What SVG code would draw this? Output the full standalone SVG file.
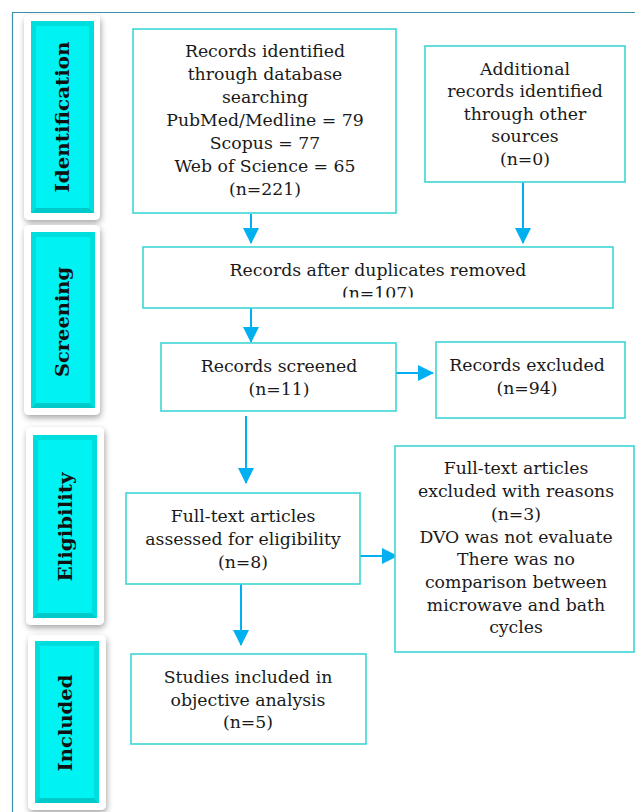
<svg xmlns="http://www.w3.org/2000/svg" width="635" height="812" viewBox="0 0 635 812">
<defs>
<style>
.box{fill:#fff;stroke:#3dd5d5;stroke-width:1.6}
.t{font-family:"DejaVu Serif","Liberation Serif",serif;font-size:17.3px;fill:#1a1a1a;text-anchor:middle}
.lab{font-family:"DejaVu Serif","Liberation Serif",serif;font-size:19px;font-weight:bold;fill:#111;text-anchor:middle}
.conn{stroke:#00b0f0;stroke-width:2;fill:none}
.frame{fill:#fff;filter:url(#sh)}
.cy{fill:#00f3f3}
.bl{fill:#5cffff}
.bd{fill:#00c9c9}
.bm{fill:#00dddd}
</style>
<filter id="sh" x="-30%" y="-10%" width="160%" height="120%">
<feGaussianBlur in="SourceAlpha" stdDeviation="3"/>
<feOffset dx="1" dy="3" result="b"/>
<feComponentTransfer><feFuncA type="linear" slope="0.35"/></feComponentTransfer>
<feMerge><feMergeNode/><feMergeNode in="SourceGraphic"/></feMerge>
</filter>
<marker id="ah" viewBox="0 0 16 16" refX="15" refY="8" markerWidth="16" markerHeight="16" markerUnits="userSpaceOnUse" orient="auto">
<path d="M0,0 L16,8 L0,16 Z" fill="#00b0f0"/>
</marker>
<clipPath id="clip3"><rect x="143" y="247" width="470" height="50.5"/></clipPath>
</defs>
<rect width="635" height="812" fill="#fff"/>
<path d="M12.5,812 V12.5 H635" fill="none" stroke="#3a90a8" stroke-width="1.2"/>

<g id="stage-identification">
<rect class="frame" x="24" y="15" width="76" height="205" rx="5"/>
<rect class="cy" x="31" y="21" width="63" height="192"/>
<polygon class="bm" points="31,21 94,21 89,26 36,26"/>
<polygon class="bm" points="31,21 36,26 36,208 31,213"/>
<polygon class="bd" points="31,213 36,208 89,208 94,213"/>
<polygon class="bm" points="94,21 94,213 89,208 89,26"/>
<text class="lab" transform="translate(69,117) rotate(-90)" textLength="151" lengthAdjust="spacingAndGlyphs">Identification</text>
</g>
<g id="stage-screening">
<rect class="frame" x="24" y="225" width="76" height="190" rx="5"/>
<rect class="cy" x="31" y="232" width="64" height="176"/>
<polygon class="bm" points="31,232 95,232 90,237 36,237"/>
<polygon class="bm" points="31,232 36,237 36,403 31,408"/>
<polygon class="bd" points="31,408 36,403 90,403 95,408"/>
<polygon class="bm" points="95,232 95,408 90,403 90,237"/>
<text class="lab" transform="translate(69,322) rotate(-90)" textLength="110" lengthAdjust="spacingAndGlyphs">Screening</text>
</g>
<g id="stage-eligibility">
<rect class="frame" x="26" y="427" width="78" height="198" rx="5"/>
<rect class="cy" x="33" y="435" width="64" height="183"/>
<polygon class="bm" points="33,435 97,435 92,440 38,440"/>
<polygon class="bm" points="33,435 38,440 38,613 33,618"/>
<polygon class="bd" points="33,618 38,613 92,613 97,618"/>
<polygon class="bm" points="97,435 97,618 92,613 92,440"/>
<text class="lab" transform="translate(72,527) rotate(-90)" textLength="109" lengthAdjust="spacingAndGlyphs">Eligibility</text>
</g>
<g id="stage-included">
<rect class="frame" x="28" y="635" width="78" height="175" rx="5"/>
<rect class="cy" x="35" y="641" width="64" height="162"/>
<polygon class="bm" points="35,641 99,641 94,646 40,646"/>
<polygon class="bm" points="35,641 40,646 40,798 35,803"/>
<polygon class="bd" points="35,803 40,798 94,798 99,803"/>
<polygon class="bm" points="99,641 99,803 94,798 94,646"/>
<text class="lab" transform="translate(72,723) rotate(-90)" textLength="97" lengthAdjust="spacingAndGlyphs">Included</text>
</g>

<g id="connectors">
<line class="conn" x1="251" y1="214" x2="251" y2="243" marker-end="url(#ah)"/>
<line class="conn" x1="523" y1="182" x2="523" y2="243" marker-end="url(#ah)"/>
<line class="conn" x1="251" y1="308" x2="251" y2="342" marker-end="url(#ah)"/>
<line class="conn" x1="396" y1="373" x2="433" y2="373" marker-end="url(#ah)"/>
<line class="conn" x1="246" y1="416" x2="246" y2="483" marker-end="url(#ah)"/>
<line class="conn" x1="360" y1="556" x2="397" y2="556" marker-end="url(#ah)"/>
<line class="conn" x1="241" y1="584" x2="241" y2="645" marker-end="url(#ah)"/>
</g>

<g id="node-database">
<rect class="box" x="133" y="29" width="263" height="184"/>
<text class="t" x="265" y="57">Records identified</text>
<text class="t" x="265" y="80">through database</text>
<text class="t" x="265" y="103">searching</text>
<text class="t" x="265" y="126">PubMed/Medline = 79</text>
<text class="t" x="265" y="149">Scopus = 77</text>
<text class="t" x="265" y="172">Web of Science = 65</text>
<text class="t" x="265" y="195">(n=221)</text>
</g>
<g id="node-other">
<rect class="box" x="425" y="46" width="200" height="136"/>
<text class="t" x="525" y="75">Additional</text>
<text class="t" x="525" y="97">records identified</text>
<text class="t" x="525" y="120">through other</text>
<text class="t" x="525" y="142">sources</text>
<text class="t" x="525" y="165">(n=0)</text>
</g>
<g id="node-duplicates">
<rect class="box" x="143" y="247" width="470" height="61"/>
<g clip-path="url(#clip3)">
<text class="t" x="378" y="276">Records after duplicates removed</text>
<text class="t" x="378" y="299">(n=107)</text>
</g>
</g>
<g id="node-screened">
<rect class="box" x="161" y="343" width="235" height="68"/>
<text class="t" x="279" y="372">Records screened</text>
<text class="t" x="279" y="395">(n=11)</text>
</g>
<g id="node-excluded">
<rect class="box" x="436" y="342" width="189" height="76"/>
<text class="t" x="527" y="371">Records excluded</text>
<text class="t" x="527" y="394">(n=94)</text>
</g>
<g id="node-fulltext">
<rect class="box" x="126" y="493" width="234" height="91"/>
<text class="t" x="243" y="522">Full-text articles</text>
<text class="t" x="243" y="545">assessed for eligibility</text>
<text class="t" x="243" y="568">(n=8)</text>
</g>
<g id="node-fulltext-excluded">
<rect class="box" x="395" y="446" width="239" height="206"/>
<text class="t" x="516" y="474">Full-text articles</text>
<text class="t" x="516" y="497">excluded with reasons</text>
<text class="t" x="516" y="520">(n=3)</text>
<text class="t" x="516" y="543">DVO was not evaluate</text>
<text class="t" x="516" y="565">There was no</text>
<text class="t" x="516" y="588">comparison between</text>
<text class="t" x="516" y="611">microwave and bath</text>
<text class="t" x="516" y="633">cycles</text>
</g>
<g id="node-included">
<rect class="box" x="131" y="654" width="235" height="90"/>
<text class="t" x="248" y="683">Studies included in</text>
<text class="t" x="248" y="706">objective analysis</text>
<text class="t" x="248" y="728">(n=5)</text>
</g>
</svg>
